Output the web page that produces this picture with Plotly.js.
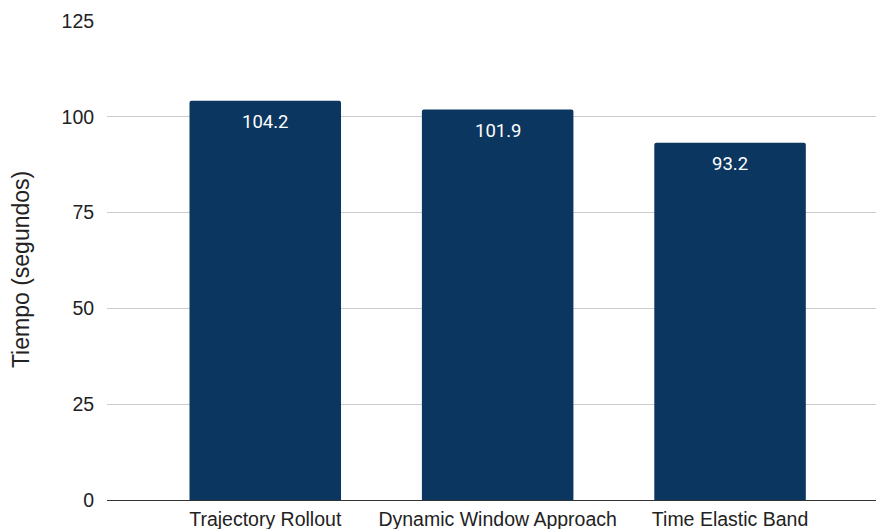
<!DOCTYPE html>
<html>
<head>
<meta charset="utf-8">
<script src="https://cdn.plot.ly/plotly-3.0.1.min.js"></script>
<style>
  html, body { margin: 0; padding: 0; background: #fff; }
  #chart { width: 876px; height: 529px; }
</style>
</head>
<body>
<div id="chart"></div>
<script>
// Planner comparison: average completion time per local planner
const planners = ["Trajectory Rollout", "Dynamic Window Approach", "Time Elastic Band"];
const timeSeconds = [104.2, 101.9, 93.2];
const yTicks = [0, 25, 50, 75, 100, 125];

const barColor = "#0b3660";
const axisFont = { family: "Liberation Sans, Arial, sans-serif", size: 19.5, color: "#222222" };

const trace = {
  type: "bar",
  x: planners,
  y: timeSeconds,
  width: 0.652,
  marker: { color: barColor, cornerradius: 2, line: { width: 0 } },
  hoverinfo: "x+y"
};

// value labels placed just inside the top of each bar
const valueLabels = planners.map((p, i) => ({
  x: p,
  y: timeSeconds[i],
  xref: "x",
  yref: "y",
  text: timeSeconds[i].toFixed(1),
  showarrow: false,
  yanchor: "top",
  yshift: -8,
  font: { family: "Roboto, sans-serif", size: 18.5, color: "#ffffff" }
}));

const yTitle = {
  text: "Tiempo (segundos)",
  xref: "paper",
  yref: "paper",
  x: 0,
  xanchor: "center",
  xshift: -86,
  y: 0.48,
  yanchor: "middle",
  textangle: -90,
  showarrow: false,
  font: { family: "Liberation Sans, Arial, sans-serif", size: 23, color: "#222222" }
};

const layout = {
  width: 876,
  height: 529,
  margin: { l: 107, r: 0, t: 21, b: 29, pad: 0 },
  paper_bgcolor: "#ffffff",
  plot_bgcolor: "#ffffff",
  showlegend: false,
  xaxis: {
    type: "category",
    range: [-0.681, 2.628],
    showgrid: false,
    showline: false,
    zeroline: false,
    ticks: "outside",
    ticklen: 2,
    tickcolor: "rgba(0,0,0,0)",
    tickfont: axisFont,
    automargin: false,
    fixedrange: true
  },
  yaxis: {
    range: [0, 125],
    tickvals: yTicks,
    ticktext: yTicks.map(String),
    showgrid: true,
    gridcolor: "#cccccc",
    gridwidth: 1,
    zeroline: true,
    zerolinecolor: "#333333",
    zerolinewidth: 1,
    showline: false,
    ticks: "outside",
    ticklen: 8,
    tickcolor: "rgba(0,0,0,0)",
    tickfont: axisFont,
    automargin: false,
    fixedrange: true
  },
  annotations: valueLabels.concat([yTitle])
};

Plotly.newPlot("chart", [trace], layout, { displayModeBar: false, staticPlot: true });
</script>
</body>
</html>
